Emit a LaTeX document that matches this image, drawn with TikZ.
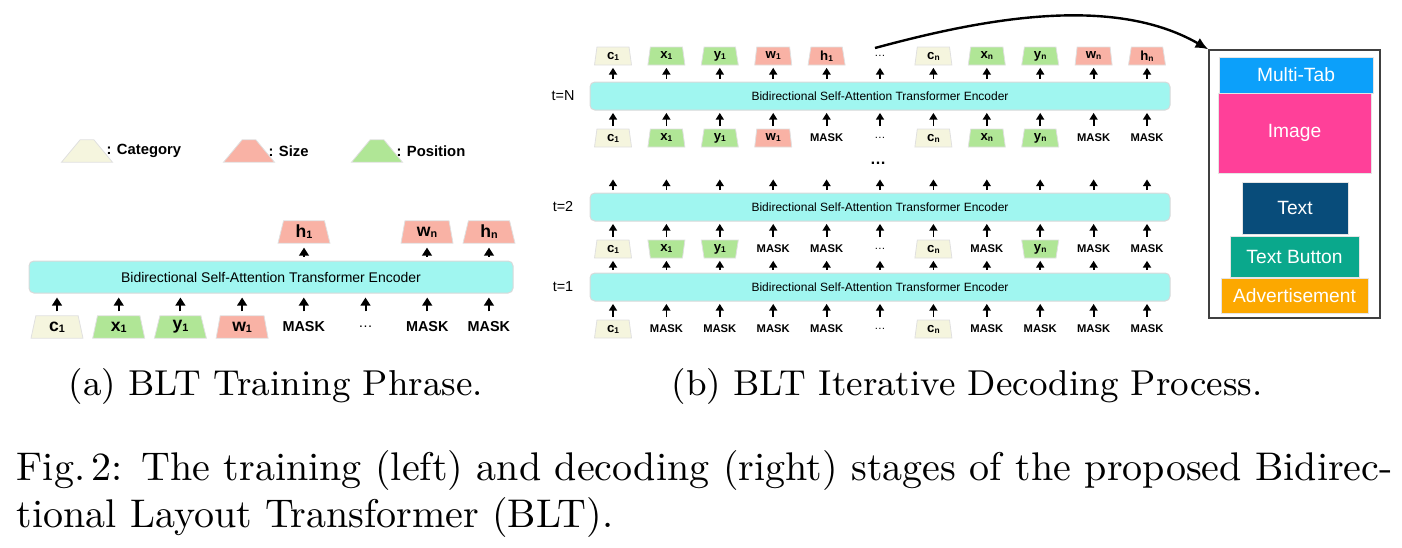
\documentclass[tikz,border=0pt]{standalone}
\usepackage{fontspec}
\newfontfamily\diag{Liberation Sans}
\usetikzlibrary{shapes.geometric,arrows.meta}
\definecolor{catcol}{RGB}{245,245,222}
\definecolor{sizecol}{RGB}{249,178,165}
\definecolor{poscol}{RGB}{176,230,150}
\definecolor{enccol}{RGB}{160,246,240}
\definecolor{tabcol}{RGB}{12,160,250}
\definecolor{imgcol}{RGB}{255,64,153}
\definecolor{txtcol}{RGB}{8,76,122}
\definecolor{btncol}{RGB}{10,168,140}
\definecolor{adcol}{RGB}{252,168,0}
\newcommand{\subL}[1]{\raisebox{-0.3pt}{\fontsize{2.7}{2.7}\selectfont#1}}
\newcommand{\subR}[1]{\raisebox{-0.25pt}{\fontsize{2.1}{2.1}\selectfont#1}}
\tikzset{
  tokL/.style={trapezium,trapezium stretches=true,trapezium angle=81,
    minimum width=13pt,minimum height=5.6pt,inner sep=0.3pt,draw=black!12,line width=0.2pt,
    font=\diag\bfseries\fontsize{4.4}{4.5}\selectfont},
  tokR/.style={trapezium,trapezium stretches=true,trapezium angle=84,
    minimum width=9.25pt,minimum height=4.5pt,inner sep=0.3pt,draw=black!12,line width=0.2pt,
    font=\diag\bfseries\fontsize{3.3}{3.4}\selectfont},
  tcat/.style={fill=catcol},
  tsize/.style={fill=sizecol},
  tpos/.style={fill=poscol},
  tposinv/.style={fill=poscol,trapezium angle=96},
  tnone/.style={draw=none,fill=none},
  maskL/.style={tnone,font=\diag\bfseries\fontsize{3.6}{4}\selectfont},
  maskR/.style={tnone,font=\diag\bfseries\fontsize{2.8}{3}\selectfont},
  dotsL/.style={tnone,font=\diag\fontsize{3.6}{4}\selectfont},
  dotsR/.style={tnone,font=\diag\fontsize{2.8}{3}\selectfont},
  enc/.style={rectangle,rounded corners=1.2pt,fill=enccol,draw=black!15,line width=0.25pt,inner sep=0pt},
  elem/.style={rectangle,inner sep=0pt,draw=black!10,line width=0.2pt,text=white,
    font=\diag\fontsize{4.8}{5}\selectfont},
  legtext/.style={anchor=west,inner sep=0.5pt,font=\diag\bfseries\fontsize{3.7}{4}\selectfont},
  tlab/.style={font=\diag\fontsize{3.6}{4}\selectfont}
}

\begin{document}
\begin{tikzpicture}[x=0.25pt,y=-0.25pt,
  arrL/.style={line width=0.5pt,-{Triangle[width=2.4pt,length=2pt]},shorten <=1pt,shorten >=1pt},
  arrR/.style={line width=0.45pt,-{Triangle[width=2pt,length=1.7pt]},shorten <=0.6pt,shorten >=0.6pt}]
\useasboundingbox (0,0) rectangle (1402,547);

% (a) training
\node[tokL,tcat,minimum width=12.75pt] (legcat) at (87,151) {\strut};
\node[legtext] (legcattxt) at (legcat.east) {: Category};
\node[tokL,tsize,minimum width=12.75pt] (legsize) at (249,151) {\strut};
\node[legtext] (legsizetxt) at (legsize.east) {: Size};
\node[tokL,tpos,minimum width=12.75pt] (legpos) at (377,151) {\strut};
\node[legtext] (legpostxt) at (legpos.east) {: Position};

\node[enc,minimum width=121pt,minimum height=8pt,font=\diag\fontsize{3.5}{4}\selectfont] (encL) at (271,277)
  {Bidirectional Self-Attention Transformer Encoder};

\foreach \l/\s [count=\i] in {c\subL{1}/tcat,x\subL{1}/tpos,y\subL{1}/tpos,
  w\subL{1}/tsize,MASK/maskL,\ldots/dotsL,MASK/maskL,MASK/maskL}
{
  \node[tokL,\s] (inL-\i) at ({57+61.7*(\i-1)},327) {\l};
  \draw[arrL] (inL-\i.north) -- (inL-\i.north |- encL.south);
}
\node[tokL,tsize] (outL-5) at (304,232) {h\subL{1}};
\node[tokL,tsize] (outL-7) at (427,232) {w\subL{n}};
\node[tokL,tsize] (outL-8) at (489,232) {h\subL{n}};
\foreach \i in {5,7,8}
  \draw[arrL] (outL-\i.south |- encL.north) -- (outL-\i.south);

% (b) decoding
\foreach \n/\y in {N/96,2/207,1/287}
{
  \node[enc,minimum width=145pt,minimum height=7pt,font=\diag\fontsize{3}{3.5}\selectfont] (enc\n) at (880,\y)
    {Bidirectional Self-Attention Transformer Encoder};
  \node[tlab] (lab\n) at (563,\y) {t=\n};
}

\foreach \l/\s [count=\i from 0] in {c\subR{1}/tcat,x\subR{1}/tpos,y\subR{1}/tpos,
  w\subR{1}/tsize,h\subR{1}/tsize,\ldots/dotsR,c\subR{n}/tcat,x\subR{n}/tpos,
  y\subR{n}/tpos,w\subR{n}/tsize,h\subR{n}/tsize}
  \node[tokR,\s] (outN-\i) at ({613+53.4*\i},56) {\l};

\foreach \l/\s [count=\i from 0] in {c\subR{1}/tcat,x\subR{1}/tpos,y\subR{1}/tpos,
  w\subR{1}/tsize,MASK/maskR,\ldots/dotsR,c\subR{n}/tcat,x\subR{n}/tpos,
  y\subR{n}/tpos,MASK/maskR,MASK/maskR}
  \node[tokR,\s] (inN-\i) at ({613+53.4*\i},138) {\l};

\foreach \l/\s [count=\i from 0] in {c\subR{1}/tcat,x\subR{1}/tposinv,y\subR{1}/tposinv,
  MASK/maskR,MASK/maskR,\ldots/dotsR,c\subR{n}/tcat,MASK/maskR,
  y\subR{n}/tposinv,MASK/maskR,MASK/maskR}
  \node[tokR,\s] (in2-\i) at ({613+53.4*\i},249) {\l};

\foreach \l/\s [count=\i from 0] in {c\subR{1}/tcat,MASK/maskR,MASK/maskR,
  MASK/maskR,MASK/maskR,\ldots/dotsR,c\subR{n}/tcat,MASK/maskR,
  MASK/maskR,MASK/maskR,MASK/maskR}
  \node[tokR,\s] (in1-\i) at ({613+53.4*\i},329) {\l};

\node[font=\diag\bfseries\fontsize{4}{4}\selectfont] (vdots) at (878,163) {\ldots};

\foreach \i in {0,...,10}
{
  \coordinate (gap-\i) at ({613+53.4*\i},177);
  \draw[arrR] (outN-\i.south |- encN.north) -- (outN-\i.south);
  \draw[arrR] (inN-\i.north) -- (inN-\i.north |- encN.south);
  \draw[arrR] (gap-\i |- enc2.north) -- (gap-\i);
  \draw[arrR] (in2-\i.north) -- (in2-\i.north |- enc2.south);
  \draw[arrR] (in2-\i.south |- enc1.north) -- (in2-\i.south);
  \draw[arrR] (in1-\i.north) -- (in1-\i.north |- enc1.south);
}

% generated layout
\node[draw=black!75,line width=0.35pt,minimum width=42.75pt,minimum height=67pt,inner sep=0pt] (layout) at (1294.5,184) {};
\node[elem,fill=tabcol,minimum width=38.5pt,minimum height=9pt] (multitab) at (1296,75) {Multi-Tab};
\node[elem,fill=imgcol,minimum width=38.25pt,minimum height=20pt] (image) at (1294.5,133) {Image};
\node[elem,fill=txtcol,minimum width=26.5pt,minimum height=13pt] (text) at (1295,208) {Text};
\node[elem,fill=btncol,minimum width=32.25pt,minimum height=10.25pt] (textbutton) at (1294.5,256.5) {Text Button};
\node[elem,fill=adcol,minimum width=36.75pt,minimum height=8.75pt] (advert) at (1294.5,295.5) {Advertisement};

\coordinate (arcstart) at (875,48);
\draw[line width=0.6pt,-{Latex[length=3.2pt,width=2.8pt]}] (arcstart) .. controls (982,19) and (1112,-6) .. (layout.north west);

% captions
\node[anchor=base west,inner sep=0pt,font=\fontsize{9}{11}\selectfont] (capa) at (68,395) {(a) BLT Training Phrase.};
\node[anchor=base west,inner sep=0pt,font=\fontsize{9}{11}\selectfont] (capb) at (671,395) {(b) BLT Iterative Decoding Process.};
\node[anchor=base west,inner sep=0pt] (figline1) at (16,480)
  {\makebox[344pt][s]{Fig.\,2: The training (left) and decoding (right) stages of the proposed Bidirec-}};
\node[anchor=base west,inner sep=0pt] (figline2) at (16,527) {tional Layout Transformer (BLT).};
\end{tikzpicture}
\end{document}
